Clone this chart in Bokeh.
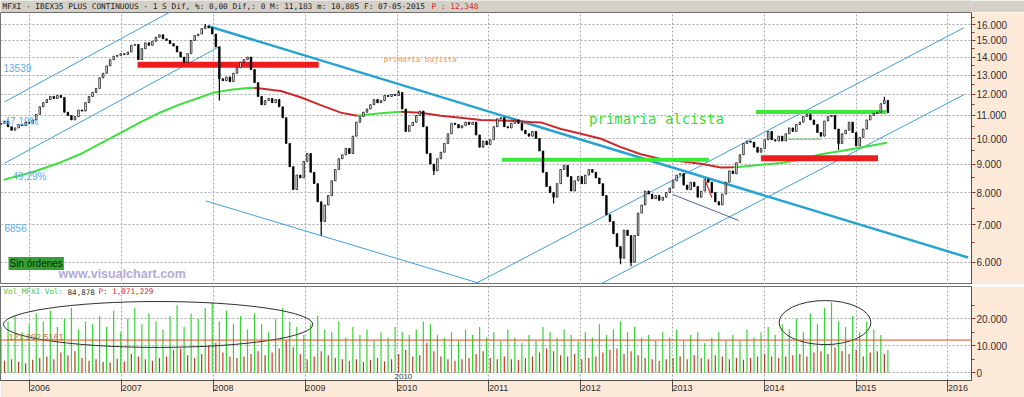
import numpy as np
import pandas as pd
from bokeh.plotting import figure
from bokeh.layouts import column
from bokeh.models import Range1d, FixedTicker, Label, Span
from bokeh.embed import file_html
from bokeh.resources import INLINE
from bokeh.core.properties import value

# ---------------- data ----------------
last_date = "2015-05-07"          # biweekly candles ending at this date
first_open = 10600
close = [
    10650, 10750, 10500, 10350, 10450, 10600, 10550, 10700, 10650, 10800,
    11050, 11400, 11600, 11750, 11900, 11800, 11950, 11850, 11150, 11000,
    10800, 10950, 11250, 11200, 11600, 11900, 12100, 12300, 12850, 13100,
    13500, 13850, 14050, 14100, 14200, 14150, 14300, 14700, 14750, 13850,
    14500, 14850, 14700, 14950, 15200, 15350, 15100, 15000, 14800, 14650,
    14300, 14000, 13700, 14200, 15000, 15300, 15400, 15750, 15900, 15800,
    15400, 14600, 12800, 12700, 12900, 12650, 13100, 13400, 13700, 13850,
    14000, 13300, 12600, 11900, 11500, 11700, 11800, 11600, 11750, 11400,
    10900, 9800, 8900, 8100, 8600, 8500, 9100, 9400, 8700, 8300,
    7700, 7100, 7600, 7900, 8400, 8800, 9200, 9350, 9600, 9400,
    10100, 10700, 10950, 11150, 11300, 11500, 11750, 11600, 11700, 11950,
    11900, 12000, 11950, 12100, 11300, 10300, 10550, 10700, 11000, 11200,
    10500, 9400, 9000, 8750, 9200, 9450, 9800, 10200, 10650, 10600,
    10450, 10550, 10700, 10600, 10700, 10150, 9650, 9900, 9750, 9950,
    10500, 10850, 10900, 10500, 10450, 10650, 10800, 10650, 10350, 10200,
    10100, 10300, 10000, 9500, 8700, 8200, 8000, 7850, 8300, 8800,
    8950, 8550, 8050, 8400, 8550, 8300, 8600, 8800, 8700, 8500,
    8300, 7900, 7300, 7100, 6750, 6400, 6100, 6850, 6700, 6000,
    6700, 7350, 7600, 8050, 7950, 7800, 7900, 7750, 7850, 8000,
    8150, 8400, 8600, 8650, 8250, 8100, 8350, 8200, 7850, 8050,
    8450, 8350, 8000, 7700, 7600, 7950, 8350, 8750, 8650, 9050,
    9350, 9800, 9900, 9850, 9650, 9450, 9600, 9950, 10300, 9950,
    9900, 10100, 9900, 10200, 10450, 10300, 10600, 10700, 10950, 11050,
    10800, 10600, 10250, 10100, 10750, 10950, 11000, 10400, 9800, 10200,
    10350, 10700, 10250, 9700, 10050, 10400, 10800, 11000, 11100, 11150,
    11550, 11700, 11125,
]
wick_low = {62: 11700, 91: 6700, 123: 8600, 157: 7650, 176: 5950, 179: 5900, 238: 9550}
wick_high = {58: 16050, 113: 12200, 251: 11880}

volume = [
    17000, 4500, 19000, 5000, 21000, 4000, 15000, 3500, 18000, 4800,
    22000, 5500, 19000, 6000, 23000, 5000, 17000, 7500, 20000, 6500,
    24000, 8000, 16000, 5500, 19000, 4500, 18000, 5000, 21000, 4000,
    17000, 3800, 23000, 5200, 15000, 4200, 20000, 7000, 24000, 6000,
    18000, 5000, 22000, 4500, 19000, 5500, 16000, 6000, 21000, 8500,
    25000, 9000, 17000, 6500, 22000, 5500, 20000, 7000, 24000, 10000,
    26000, 11000, 19000, 7500, 23000, 6000, 18000, 5500, 21000, 6000,
    16000, 7000, 22000, 8000, 18000, 6500, 15000, 7500, 20000, 9000,
    24000, 12000, 19000, 9500, 17000, 7000, 14000, 5000, 18000, 6000,
    21000, 8000, 16000, 6500, 15000, 5500, 19000, 5000, 13000, 4500,
    17000, 5000, 14000, 4000, 16000, 4800, 12000, 5500, 15000, 4200,
    13000, 5000, 17000, 7000, 15000, 8500, 14000, 6000, 16000, 6500,
    19000, 11000, 18000, 8000, 14000, 6000, 13000, 5000, 15000, 4500,
    12000, 5000, 16000, 5500, 14000, 7000, 17000, 8000, 13000, 5500,
    15000, 5000, 12000, 6000, 16000, 5000, 13000, 4800, 11000, 5500,
    14000, 6000, 12000, 7500, 17000, 9000, 15000, 8000, 13000, 6500,
    16000, 6000, 14000, 7000, 12000, 5000, 15000, 5500, 13000, 6000,
    18000, 7500, 14000, 8500, 16000, 9000, 19000, 7000, 15000, 8000,
    17000, 6500, 13000, 5500, 14000, 5000, 12000, 4500, 15000, 5000,
    13000, 5500, 16000, 6000, 12000, 5000, 14000, 6500, 15000, 5500,
    11000, 5000, 13000, 6500, 15000, 6000, 12000, 5000, 14000, 5500,
    12000, 4800, 16000, 5500, 13000, 6000, 15000, 7000, 17000, 6000,
    14000, 5500, 18000, 6000, 16000, 6500, 20000, 7000, 15000, 6000,
    22000, 7500, 18000, 8000, 24000, 7000, 26000, 9500, 19000, 8000,
    17000, 7000, 21000, 8500, 15000, 6000, 19000, 7500, 16000, 8000,
    14000, 7000, 8488,
]
vol_reference = 121292.5161 / 10

# moving average
ma_years = [2005.712, 2006.039, 2006.333, 2006.551, 2006.769, 2006.987, 2007.205,
            2007.423, 2007.641, 2007.859, 2008.000, 2008.186, 2008.404, 2008.437,
            2008.513, 2008.731, 2008.949, 2009.167, 2009.385, 2009.548, 2009.570,
            2009.603, 2009.821, 2010.039, 2010.257, 2010.475, 2010.693, 2010.911,
            2011.238, 2011.456, 2011.565, 2011.783, 2012.001, 2012.219, 2012.436,
            2012.654, 2012.872, 2013.090, 2013.308, 2013.526, 2013.668, 2013.744,
            2013.962, 2014.180, 2014.398, 2014.616, 2014.834, 2015.052, 2015.335]
ma_values = [8430, 8720, 9060, 9380, 9800, 10240, 10700, 11150, 11530, 11860,
             12090, 12230, 12330, 12320, 12300, 12170, 11860, 11480, 11130, 11000,
             11000, 11010, 11100, 11170, 11130, 10990, 10900, 10800, 10760, 10710,
             10690, 10400, 10200, 9990, 9650, 9370, 9190, 9100, 9010, 8870, 8880,
             8900, 8970, 9040, 9170, 9370, 9500, 9640, 9828]
ma_turns = [2008.437, 2009.570, 2010.039, 2013.668]

# drawn objects: (year0, price0, year1, price1)
main_trend = (2007.935, 15924, 2016.218, 6118)
channel_lines = [
    (2005.723, 11636, 2007.859, 18062),
    (2005.723, 9030, 2008.077, 14662),
    (2007.913, 7731, 2011.129, 5354),
    (2010.856, 5495, 2016.175, 15812),
    (2012.110, 5370, 2016.175, 11991),
]
small_channel = (2013.003, 7935, 2013.722, 7127)
small_red = (2013.352, 8452, 2013.428, 7837)
red_levels = [(2007.172, 2009.145, 13560), (2013.962, 2015.238, 9218)]
green_levels = [(2011.140, 2013.395, 9157), (2013.908, 2015.325, 11165)]
thin_green_level = (2014.257, 2014.616, 9970)
vol_ellipses = [(2007.396, 17900, 3.37, 17000), (2014.66, 18600, 1.00, 16300)]

years = list(range(2006, 2017))
price_ticks = [6000, 7000, 8000, 9000, 10000, 11000, 12000, 13000, 14000, 15000, 16000]
vol_ticks = [0, 10000, 20000]

# ---------------- derived ----------------
X0, X1 = 2005.679, 2016.256
PEACH = "#fde9d8"
GREY = "#d4d0c8"
MONO = "DejaVu Sans Mono"
SANS = "Liberation Sans"

dates = pd.date_range(end=last_date, periods=len(close), freq="14D")
xs = (dates.year + (dates.dayofyear - 1) / 365.25).to_numpy(dtype=float)
c = np.array(close, dtype=float)
o = np.r_[first_open, c[:-1]]
hi = np.maximum(o, c)
lo = np.minimum(o, c)
whi, wlo = hi.copy(), lo.copy()
for i, val in wick_low.items():
    wlo[i] = min(wlo[i], val)
for i, val in wick_high.items():
    whi[i] = max(whi[i], val)

# ---------------- header ----------------
h = figure(width=1024, height=12, x_range=Range1d(0, 1), y_range=Range1d(0, 12),
           x_axis_location=None, y_axis_location=None, min_border=0,
           toolbar_location=None, output_backend="svg",
           background_fill_color=GREY, border_fill_color=GREY, outline_line_color=None)
h.grid.visible = False
h.add_layout(Label(x=2, x_units="screen", y=6, text="MFXI - IBEX35 PLUS CONTINUOUS -  1 S Dif, %: 0,00 Dif,: 0 M: 11,183 m: 10,885 F: 07-05-2015",
                   text_font=MONO, text_font_size="7.8px", text_baseline="middle", text_color="#202020"))
h.add_layout(Label(x=431, x_units="screen", y=6, text="P : 12,348", text_font=MONO, text_font_size="7.8px",
                   text_baseline="middle", text_color="#e02020"))

# ---------------- main price panel ----------------
p = figure(width=1024, height=272, x_range=Range1d(X0, X1), y_range=Range1d(5472, 16833),
           y_axis_type="log", y_axis_location="right", x_axis_location=None,
           output_backend="svg", toolbar_location=None,
           min_border_left=0, min_border_right=53, min_border_top=0, min_border_bottom=0,
           background_fill_color="white", border_fill_color=PEACH, outline_line_color="#707070")
p.xgrid.ticker = FixedTicker(ticks=years)
p.grid.grid_line_color = "#a8a8a8"
p.grid.grid_line_dash = "2 2"
ax = p.yaxis[0]
ax.ticker = FixedTicker(ticks=price_ticks, minor_ticks=[t + 500 for t in price_ticks])
ax.major_label_overrides = {t: f"{t // 1000}.000" for t in price_ticks}
ax.axis_line_color = "#8a3c1c"
ax.major_tick_line_color = "#8a3c1c"
ax.minor_tick_line_color = "#8a3c1c"
ax.major_tick_out, ax.major_tick_in = 4, 0
ax.minor_tick_out, ax.minor_tick_in = 3, 0
ax.major_label_standoff = 1
ax.major_label_text_font = SANS
ax.major_label_text_font_size = "10px"
ax.major_label_text_color = "#303030"

# channel lines and trendline
for (a0, b0, a1, b1) in channel_lines:
    p.line([a0, a1], [b0, b1], line_color="#3f9fdc", line_width=1)
p.line([small_channel[0], small_channel[2]], [small_channel[1], small_channel[3]],
       line_color="#4a6a9a", line_width=1)
p.line([main_trend[0], main_trend[2]], [main_trend[1], main_trend[3]],
       line_color="#2ba3cf", line_width=2.5)

# moving average, coloured by side
cols = []
state = 0
for k in range(len(ma_years) - 1):
    while state < len(ma_turns) and ma_years[k] >= ma_turns[state] - 1e-9:
        state += 1
    cols.append("#3ee03e" if state % 2 == 0 else "#cc2a2a")
run_x, run_y, run_c = [ma_years[0]], [ma_values[0]], cols[0]
for k, col in enumerate(cols):
    if col != run_c:
        p.line(run_x, run_y, line_color=run_c, line_width=2)
        run_x, run_y, run_c = [ma_years[k]], [ma_values[k]], col
    run_x.append(ma_years[k + 1])
    run_y.append(ma_values[k + 1])
p.line(run_x, run_y, line_color=run_c, line_width=2)

# level lines
for (a0, a1, lv) in red_levels:
    p.line([a0, a1], [lv, lv], line_color="#ee1c1c", line_width=6)
for (a0, a1, lv) in green_levels:
    p.line([a0, a1], [lv, lv], line_color="#3de83d", line_width=4)
p.line([thin_green_level[0], thin_green_level[1]], [thin_green_level[2]] * 2,
       line_color="#3de83d", line_width=1)

# candles
bw = 1.6 / 91.75
p.segment(xs, whi, xs, wlo, line_color="black", line_width=1.2)
p.vbar(x=xs, width=bw, top=hi, bottom=lo, fill_color=np.where(c >= o, "white", "black").tolist(),
       line_color="black", line_width=0.7)
p.line([small_red[0], small_red[2]], [small_red[1], small_red[3]], line_color="#d03030", line_width=1.2)

# texts
p.add_layout(Label(x=2009.853, y=13871, text="primaria bajista", text_font=MONO,
                   text_font_size="7.6px", text_baseline="middle", text_color="#e89a55"))
p.add_layout(Label(x=2012.09, y=10860, text="primaria alcista", text_font=MONO,
                   text_font_size="14px", text_baseline="middle", text_color="#35dd35"))
for (sx, sy, t) in [(3, 217, "13539"), (4, 163, "47,19%"), (12, 108, "49,29%"), (4, 57, "6856")]:
    p.add_layout(Label(x=sx, y=sy, x_units="screen", y_units="screen", text=t, text_font=SANS,
                       text_font_size="10px", text_baseline="middle", text_color="#5aaee0"))
p.add_layout(Label(x=8, y=21, x_units="screen", y_units="screen", text="Sin órdenes", text_font=SANS,
                   text_font_size="10px", text_baseline="middle", text_color="#0a2a0a",
                   background_fill_color="#35a035", padding=1))
p.add_layout(Label(x=58, y=11, x_units="screen", y_units="screen", text="www.visualchart.com",
                   text_font=SANS, text_font_size="12.5px", text_font_style="bold",
                   text_baseline="middle", text_color="#b4acd6"))
p.add_layout(Label(x=978, x_units="screen", y=close[-1], text="11.125", text_font=SANS,
                   text_font_size="10px", text_baseline="middle", text_color="white",
                   background_fill_color="#f25a26", padding=1))
p.add_layout(Label(x=978, x_units="screen", y=ma_values[-1], text="9.828", text_font=SANS,
                   text_font_size="10px", text_baseline="bottom", text_color="white",
                   background_fill_color="#e8431e", padding=1))

# ---------------- separator ----------------
s = figure(width=1024, height=2, x_range=Range1d(0, 1), y_range=Range1d(0, 1),
           x_axis_location=None, y_axis_location=None, min_border=0,
           toolbar_location=None, output_backend="svg",
           background_fill_color="#8c8c8c", border_fill_color="#8c8c8c", outline_line_color=None)
s.grid.visible = False

# ---------------- volume panel ----------------
v = figure(width=1024, height=111, x_range=p.x_range, y_range=Range1d(-2852, 31963),
           y_axis_location="right", output_backend="svg", toolbar_location=None,
           min_border_left=0, min_border_right=53, min_border_top=0, min_border_bottom=17,
           background_fill_color="white", border_fill_color=PEACH, outline_line_color="#707070")
v.xgrid.ticker = FixedTicker(ticks=years)
v.grid.grid_line_color = "#a8a8a8"
v.grid.grid_line_dash = "2 2"
vy = v.yaxis[0]
vy.ticker = FixedTicker(ticks=vol_ticks, minor_ticks=[5000, 15000, 25000])
vy.major_label_overrides = {0: "0", 10000: "10.000", 20000: "20.000"}
vy.axis_line_color = "#8a3c1c"
vy.major_tick_line_color = "#8a3c1c"
vy.minor_tick_line_color = "#8a3c1c"
vy.major_tick_out, vy.major_tick_in = 4, 0
vy.minor_tick_out, vy.minor_tick_in = 3, 0
vy.major_label_standoff = 1
vy.major_label_text_font = SANS
vy.major_label_text_font_size = "10px"
vy.major_label_text_color = "#303030"
vx = v.xaxis[0]
vx.ticker = FixedTicker(ticks=years)
vx.major_label_overrides = {yr: str(yr) for yr in years}
vx.major_label_orientation = -0.0001
vx.major_tick_out, vx.major_tick_in = 11, 0
vx.minor_tick_line_color = None
vx.major_label_standoff = -4
vx.axis_line_color = "#505050"
vx.major_tick_line_color = "#505050"
vx.major_label_text_font = SANS
vx.major_label_text_font_size = "9px"
vx.major_label_text_color = "#303030"

vol = np.array(volume, dtype=float)
vcol = ["#33d633" if i % 2 == 0 else ("#d83424" if c[i] < o[i] else "#a8401c") for i in range(len(vol))]
v.segment(xs, np.zeros_like(vol), xs, vol, line_color=vcol, line_width=1.2)
v.add_layout(Span(location=vol_reference, dimension="width", line_color="#e04a20", line_width=1))
v.add_layout(Label(x=8, x_units="screen", y=vol_reference, text="121.292,5161", text_font=SANS,
                   text_font_size="9px", text_baseline="bottom", text_color="#c8703c"))
for (ex, ey, ew, eh) in vol_ellipses:
    v.ellipse(x=ex, y=ey, width=ew, height=eh, fill_color=None, line_color="#303030", line_width=1)
v.add_layout(Label(x=3, x_units="screen", y=30100, text="Vol_MFXI Vol:", text_font=MONO,
                   text_font_size="7.6px", text_baseline="middle", text_color="#39c439"))
v.add_layout(Label(x=67, x_units="screen", y=30100, text="84,878", text_font=MONO,
                   text_font_size="7.6px", text_baseline="middle", text_color="#303030"))
v.add_layout(Label(x=98, x_units="screen", y=30100, text="P: 1,071,229", text_font=MONO,
                   text_font_size="7.6px", text_baseline="middle", text_color="#e02020"))
v.add_layout(Label(x=394, x_units="screen", y=-1500, text="2010", text_font=SANS,
                   text_font_size="8px", text_baseline="middle", text_color="#303030"))
v.add_layout(Label(x=978, x_units="screen", y=volume[-1], text="84.878", text_font=SANS,
                   text_font_size="10px", text_baseline="middle", text_color="white",
                   background_fill_color="#3a86e0", padding=1))

layout = column(h, p, s, v, spacing=0)
open("out.html", "w").write(file_html(layout, INLINE))
